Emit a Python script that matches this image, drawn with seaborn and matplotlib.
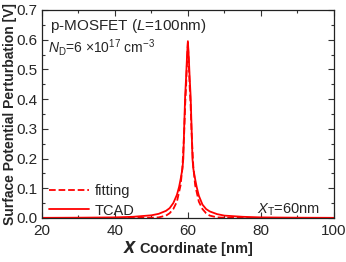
import matplotlib
matplotlib.use("Agg")
import matplotlib.pyplot as plt
import seaborn as sns
import pandas as pd
from matplotlib.ticker import MultipleLocator

# Data
x_tcad = [20, 30, 40, 45, 50, 52, 54, 55, 56, 57, 57.6, 58, 58.5, 58.75, 59, 59.25, 59.5, 59.75, 60,
          60.25, 60.5, 60.75, 61, 61.25, 61.5, 62, 62.4, 63, 64, 65, 66, 68, 70, 75, 80, 90, 100]
v_tcad = [0.0005, 0.001, 0.002, 0.004, 0.009, 0.014, 0.024, 0.033, 0.05, 0.078, 0.105, 0.13, 0.165, 0.20,
          0.31, 0.41, 0.47, 0.54, 0.595,
          0.54, 0.47, 0.41, 0.31, 0.20, 0.165, 0.13, 0.105, 0.075, 0.045, 0.03, 0.022, 0.013, 0.008, 0.004, 0.002, 0.001, 0.0005]

x_fit = [20, 40, 45, 50, 52, 54, 55, 56, 57, 58, 58.5, 59, 59.25, 59.5, 59.75, 60,
         60.25, 60.5, 60.75, 61, 61.5, 62, 63, 64, 65, 66, 68, 70, 75, 80, 100]
v_fit = [0.0, 0.0, 0.0003, 0.001, 0.002, 0.008, 0.016, 0.03, 0.055, 0.11, 0.17, 0.29, 0.38, 0.44, 0.52, 0.59,
         0.52, 0.44, 0.38, 0.29, 0.17, 0.11, 0.055, 0.03, 0.016, 0.008, 0.002, 0.001, 0.0003, 0.0, 0.0]

x_ticks = [20, 40, 60, 80, 100]
y_ticks = [0.0, 0.1, 0.2, 0.3, 0.4, 0.5, 0.6, 0.7]

sns.set_style("ticks")
plt.rcParams['font.family'] = ['Liberation Sans', 'DejaVu Sans']
plt.rcParams['mathtext.fontset'] = 'custom'
plt.rcParams['mathtext.rm'] = 'Liberation Sans'
plt.rcParams['mathtext.it'] = 'Liberation Sans:italic'
plt.rcParams['mathtext.bf'] = 'Liberation Sans:bold'

fig = plt.figure(figsize=(3.46, 2.62), dpi=100)
ax = fig.add_axes([0.121, 0.168, 0.844, 0.794])

df_fit = pd.DataFrame({"x": x_fit, "v": v_fit})
df_tcad = pd.DataFrame({"x": x_tcad, "v": v_tcad})
sns.lineplot(data=df_fit, x="x", y="v", ax=ax, color="#ff0000", linestyle="--", lw=1.3, label="fitting")
sns.lineplot(data=df_tcad, x="x", y="v", ax=ax, color="#ff0000", linestyle="-", lw=1.3, label="TCAD")

ax.set_xlim(20, 100)
ax.set_ylim(0, 0.7)
ax.set_xticks(x_ticks)
ax.set_yticks(y_ticks)
ax.set_xticklabels([str(t) for t in x_ticks], fontsize=11)
ax.set_yticklabels([f"{t:.1f}" for t in y_ticks], fontsize=11)
ax.xaxis.set_minor_locator(MultipleLocator(10))
ax.yaxis.set_minor_locator(MultipleLocator(0.05))
ax.tick_params(which='both', direction='in', top=True, right=True, width=0.8, color='#333333')
ax.tick_params(which='major', length=4)
ax.tick_params(axis='x', which='major', pad=4)
ax.tick_params(axis='y', which='major', pad=3)
ax.tick_params(which='minor', length=2)
for s in ax.spines.values():
    s.set_linewidth(0.9)
    s.set_color('#222222')

ax.set_xlabel(r"$\mathbfit{X}$ Coordinate [nm]", fontsize=10.5, fontweight='bold', labelpad=1)
ax.set_ylabel("Surface Potential Perturbation [V]", fontsize=10, fontweight='bold', labelpad=0)

ax.text(0.027, 0.904, r"p-MOSFET ($L$=100nm)", transform=ax.transAxes, fontsize=11,
        va='baseline', ha='left')
ax.text(0.02, 0.795, r"$N_{\mathrm{D}}$=6 $\times$10$^{17}$ cm$^{-3}$", transform=ax.transAxes,
        fontsize=10, va='baseline', ha='left')
ax.text(0.738, 0.02, r"$X_{\mathrm{T}}$=60nm", transform=ax.transAxes, fontsize=10.5,
        va='baseline', ha='left')

ax.legend(loc='lower left', bbox_to_anchor=(-0.005, -0.04), frameon=False, fontsize=10.5,
          handlelength=2.7, handletextpad=0.45, labelspacing=0.38, borderaxespad=0.2)

fig.savefig("out.png", dpi=100)
